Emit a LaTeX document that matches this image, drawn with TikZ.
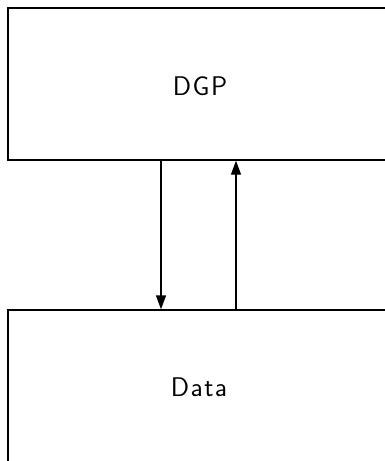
\documentclass[tikz,border=0pt]{standalone}
\usetikzlibrary{arrows.meta}
\begin{document}
\begin{tikzpicture}[x=1pt,y=1pt,
  blk/.style={draw, line width=1.4pt, minimum width=384pt, minimum height=152pt, inner sep=0pt},
  lbl/.style={font=\fontsize{27}{31}\selectfont\sffamily},
  conn/.style={line width=1.4pt, -{Triangle[length=14pt,width=10pt]}}]
\useasboundingbox (0,0) rectangle (385,-461);
\node[blk] (dgp) at (200,-84) {};
\node[blk] (data) at (200,-386) {};
\node[lbl] (dgpl) at (200,-86) {D\kern1.5pt G\kern1.5pt P};
\node[lbl] (datal) at (199,-387) {D\kern1.5pt a\kern1.5pt t\kern1.5pt a};
\draw[conn] (dgp.south -| 161,0) -- (data.north -| 161,0);
\draw[conn] (data.north -| 236,0) -- (dgp.south -| 236,0);
\end{tikzpicture}
\end{document}
